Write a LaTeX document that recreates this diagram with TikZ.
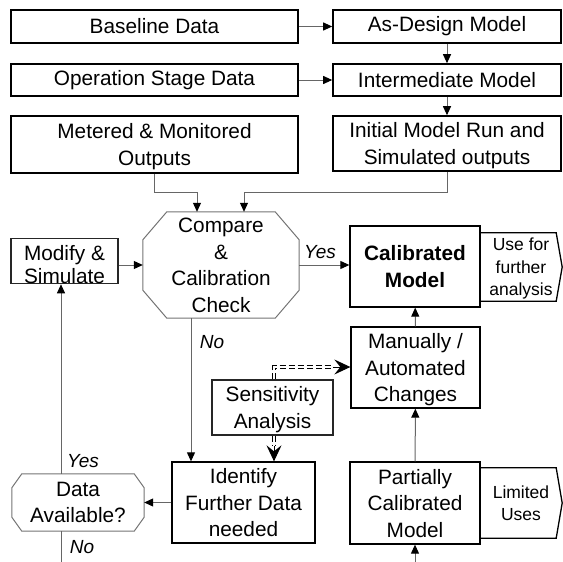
\documentclass[tikz,border=0pt]{standalone}
\usepackage{fontspec}
\setmainfont{Liberation Sans}
\usetikzlibrary{arrows.meta,calc}

\begin{document}
\begin{tikzpicture}[x=1pt,y=-1pt,
  every node/.style={inner sep=0pt, align=center, font=\fontsize{20.8}{26.5}\selectfont},
  ml/.style={text depth=0pt},
  bigbox/.style={draw=black, line width=1.6pt, rectangle},
  midbox/.style={draw=black, line width=1.3pt, rectangle},
  thinbox/.style={draw=black!85, line width=1.1pt, rectangle},
  ghost/.style={draw=none, rectangle},
  octline/.style={draw=black!55, line width=1pt},
  smalltext/.style={font=\fontsize{17.5}{22.5}\selectfont},
  lbl/.style={font=\fontsize{19}{22}\selectfont\itshape},
  conn/.style={draw=black!60, line width=1pt, -{Triangle[length=9pt,width=8pt,color=black]}},
  plain/.style={draw=black!60, line width=1pt},
  dbl/.style={draw=black, line width=1.2pt, double=white, double distance=2.2pt, dash pattern=on 6pt off 3pt},
  dbltip/.style={draw=black, line width=1pt, -{Stealth[length=16pt,width=15pt,inset=6pt,fill=black]}}
]
\useasboundingbox (0,0) rectangle (563,562);

% input and model boxes
\node[bigbox, minimum width=287pt, minimum height=33pt] (base) at (154.5,26.5) {Baseline Data};
\node[bigbox, minimum width=228pt, minimum height=33pt] (asd) at (447,26.5) {As-Design Model};
\node[bigbox, minimum width=287pt, minimum height=32pt] (op) at (154.5,80) {Operation Stage Data};
\node[bigbox, minimum width=228pt, minimum height=32pt] (inter) at (447,80) {Intermediate Model};
\node[bigbox, ml, minimum width=287pt, minimum height=57pt] (met) at (154.5,144.5) {Metered \& Monitored\\Outputs};
\node[bigbox, ml, minimum width=228pt, minimum height=55pt] (init) at (447,143.5) {Initial Model Run and\\Simulated outputs};

% calibration check (octagon)
\node[ghost, ml, minimum width=156pt, minimum height=106pt] (cmp) at (221,265) {Compare\\\&\\Calibration\\Check};
\draw[octline] ([xshift=24pt]cmp.north west) -- ([xshift=-24pt]cmp.north east)
  -- ([yshift=-28pt]cmp.north east) -- ([yshift=28pt]cmp.south east)
  -- ([xshift=-24pt]cmp.south east) -- ([xshift=24pt]cmp.south west)
  -- ([yshift=28pt]cmp.south west) -- ([yshift=-28pt]cmp.north west) -- cycle;

\node[thinbox, ml, minimum width=107pt, minimum height=44pt, font=\fontsize{20.8}{23.5}\selectfont] (mod) at (64.5,261) {\rule{0pt}{22pt}Modify \&\\Simulate};
\node[midbox, ml, minimum width=130pt, minimum height=81pt, font=\fontsize{20.8}{26.5}\selectfont\bfseries] (cal) at (415,266.5) {Calibrated\\Model};

% outcome signals
\node[ghost, ml, smalltext, minimum width=82pt, minimum height=68pt] (use) at (521,267) {Use for\\further\\analysis};
\draw[midbox] (use.north west) -- ([xshift=-6pt]use.north east) -- (use.east)
  -- ([xshift=-6pt]use.south east) -- (use.south west) -- cycle;

\node[midbox, ml, minimum width=129pt, minimum height=81pt] (man) at (415.5,367.5) {Manually /\\Automated\\Changes};
\node[thinbox, ml, minimum width=121pt, minimum height=55pt] (sens) at (272.5,407.5) {Sensitivity\\Analysis};
\node[midbox, ml, minimum width=143pt, minimum height=81pt] (idf) at (243.5,502.5) {Identify\\Further Data\\needed};

% data availability decision (octagon)
\node[ghost, ml, minimum width=132pt, minimum height=57pt] (dat) at (78,502.5) {Data\\Available?};
\draw[octline] ([xshift=10pt]dat.north west) -- ([xshift=-10pt]dat.north east)
  -- ([yshift=-14pt]dat.north east) -- ([yshift=14pt]dat.south east)
  -- ([xshift=-10pt]dat.south east) -- ([xshift=10pt]dat.south west)
  -- ([yshift=14pt]dat.south west) -- ([yshift=-14pt]dat.north west) -- cycle;

\node[midbox, ml, minimum width=130pt, minimum height=82pt] (par) at (415,503) {Partially\\Calibrated\\Model};
\node[ghost, ml, smalltext, minimum width=82pt, minimum height=70pt] (lim) at (521,503) {Limited\\Uses};
\draw[midbox] (lim.north west) -- ([xshift=-6pt]lim.north east) -- (lim.east)
  -- ([xshift=-6pt]lim.south east) -- (lim.south west) -- cycle;

% helper coordinates for routed connectors
\coordinate (m1) at (197,192);
\coordinate (i1) at (244,192);
\coordinate (nx) at (191,0);
\coordinate (yx) at (61,0);
\coordinate (sx) at (274,0);
\coordinate (sa1) at (274,446);
\coordinate (sa2) at (333,367);
\coordinate (pin) at (415,562);
\coordinate (dend) at (61,562);

% connectors
\draw[conn] (base) -- (asd);
\draw[conn] (op) -- (inter);
\draw[conn] (asd) -- (inter);
\draw[conn] (inter) -- (init);
\draw[conn] (met.south) |- (m1) -- (m1 |- cmp.north);
\draw[conn] (init.south) |- (i1) -- (i1 |- cmp.north);
\draw[conn] (mod.east |- cmp.west) -- (cmp.west);
\draw[conn] (cmp.east) -- (cmp.east -| cal.west);
\draw[conn] (cmp.south -| nx) -- (idf.north -| nx);
\draw[conn] (man) -- (cal);
\draw[conn] (par) -- (man);
\draw[conn] (pin) -- (par.south);
\draw[conn] (idf.west) -- (dat.east);
\draw[conn] (dat.north -| yx) -- (mod.south -| yx);
\draw[plain] (dat.south -| yx) -- (dend);

% sensitivity links (double lines)
\draw[dbl] (sens.north -| sx) |- (sa2);
\draw[dbltip] (sa2) -- (man.west |- sa2);
\draw[dbl] (sens.south -| sx) -- (sa1);
\draw[dbltip] (sa1) -- (idf.north -| sx);

% branch labels
\node[lbl] (yes1) at (320,252) {Yes};
\node[lbl] (no1) at (212,342) {No};
\node[lbl] (yes2) at (83,461) {Yes};
\node[lbl] (no2) at (82,547) {No};
\end{tikzpicture}
\end{document}
